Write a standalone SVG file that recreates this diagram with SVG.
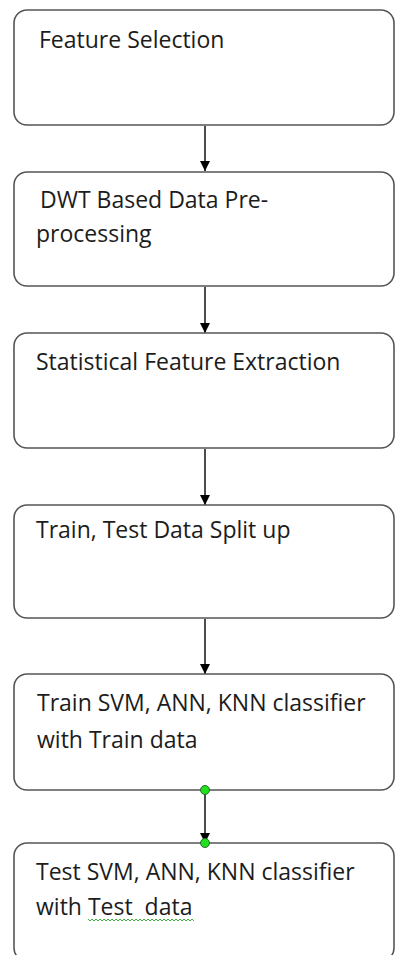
<svg xmlns="http://www.w3.org/2000/svg" width="395" height="955" viewBox="0 0 395 955">
<style>
.box{fill:#fff;stroke:#555;stroke-width:1.6}
.t{font-family:"Open Sans","Liberation Sans",Arial,sans-serif;font-size:23px;fill:#1c1c1c}
.c{stroke:#000;stroke-width:1.4;fill:none}
.dot{fill:#1ee01e;stroke:#2a6a2a;stroke-width:1}
</style>
<defs>
<marker id="ah" viewBox="0 0 10 10" refX="10" refY="5" markerWidth="10" markerHeight="10" markerUnits="userSpaceOnUse" orient="auto">
<path d="M0,0 L10,5 L0,10 z" fill="#000"/>
</marker>
</defs>
<rect width="395" height="955" fill="#fff"/>
<g id="connectors">
<line class="c" x1="205" y1="126" x2="205" y2="171" marker-end="url(#ah)"/>
<line class="c" x1="205" y1="287" x2="205" y2="333" marker-end="url(#ah)"/>
<line class="c" x1="205" y1="449" x2="205" y2="505" marker-end="url(#ah)"/>
<line class="c" x1="205" y1="619" x2="205" y2="674" marker-end="url(#ah)"/>
<line class="c" x1="205" y1="790" x2="205" y2="843" marker-end="url(#ah)"/>
</g>
<g id="n1"><rect class="box" x="14" y="10" width="380" height="115" rx="13"/><text class="t" x="39" y="48">Feature Selection</text></g>
<g id="n2"><rect class="box" x="14" y="172" width="380" height="114" rx="13"/><text class="t" x="40" y="208">DWT Based Data Pre-</text><text class="t" x="36" y="242">processing</text></g>
<g id="n3"><rect class="box" x="14" y="333" width="380" height="115" rx="13"/><text class="t" x="36" y="370">Statistical Feature Extraction</text></g>
<g id="n4"><rect class="box" x="14" y="505" width="380" height="113" rx="13"/><text class="t" x="36" y="538">Train, Test Data Split up</text></g>
<g id="n5"><rect class="box" x="14" y="674" width="380" height="116" rx="13"/><text class="t" x="37" y="711">Train SVM, ANN, KNN classifier</text><text class="t" x="37" y="748">with Train data</text></g>
<g id="n6"><rect class="box" x="14" y="843" width="380" height="118" rx="13"/><text class="t" x="36" y="880">Test SVM, ANN, KNN classifier</text><text class="t" x="36" y="915" xml:space="preserve">with Test  data</text>
<polyline points="88,919 90,921 92,919 94,921 96,919 98,921 100,919 102,921 104,919 106,921 108,919 110,921 112,919 114,921 116,919 118,921 120,919 122,921 124,919 126,921 128,919 130,921 132,919 134,921 136,919 138,921 140,919 142,921 144,919 146,921 148,919 150,921 152,919 154,921 156,919 158,921 160,919 162,921 164,919 166,921 168,919 170,921 172,919 174,921 176,919 178,921 180,919 182,921 184,919 186,921 188,919 190,921 192,919 194,921" fill="none" stroke="#3cb43c" stroke-width="1"/></g>
<g id="handles"><circle class="dot" cx="205" cy="790" r="4.5"/><circle class="dot" cx="205" cy="843" r="4.5"/></g>
</svg>
